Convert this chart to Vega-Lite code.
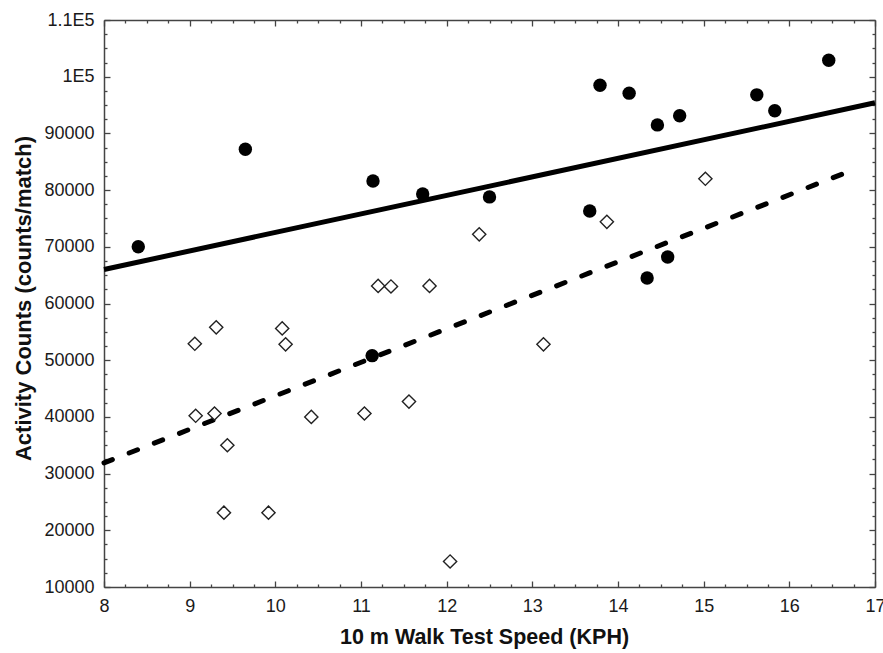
{
  "$schema": "https://vega.github.io/schema/vega-lite/v6.json",
  "width": 771,
  "height": 567,
  "autosize": {"type": "none"},
  "padding": {"left": 104, "top": 20, "right": 8, "bottom": 66},
  "background": "white",
  "config": {
    "view": {"stroke": null},
    "axis": {
      "grid": false,
      "domainColor": "#444",
      "domainWidth": 1.5,
      "tickColor": "#444",
      "tickWidth": 1.3,
      "labelFont": "Liberation Sans",
      "labelFontSize": 18,
      "labelColor": "#1a1a1a",
      "titleFont": "Liberation Sans",
      "titleFontWeight": "bold",
      "titleColor": "#111"
    }
  },
  "resolve": {"axis": {"x": "independent", "y": "independent"}},
  "layer": [
    {
      "data": {"values": [{"speed": 8, "counts": 66000}, {"speed": 17, "counts": 95400}]},
      "mark": {"type": "line", "color": "black", "strokeWidth": 5},
      "encoding": {
        "x": {"field": "speed", "type": "quantitative", "scale": {"domain": [8, 17], "nice": false, "zero": false},
          "axis": {"orient": "top", "labels": false, "title": null, "values": [8, 9, 10, 11, 12, 13, 14, 15, 16, 17], "tickSize": -6, "domain": true}},
        "y": {"field": "counts", "type": "quantitative", "scale": {"domain": [10000, 110000], "nice": false, "zero": false},
          "axis": {"orient": "right", "labels": false, "title": null, "values": [10000, 20000, 30000, 40000, 50000, 60000, 70000, 80000, 90000, 100000, 110000], "tickSize": -6, "domain": true}}
      }
    },
    {
      "data": {"values": [{"speed": 8, "counts": 31900}, {"speed": 16.8, "counts": 83900}]},
      "mark": {"type": "line", "color": "black", "strokeWidth": 5, "strokeDash": [9, 18], "strokeCap": "round"},
      "encoding": {
        "x": {"field": "speed", "type": "quantitative",
          "axis": {"orient": "top", "labels": false, "title": null, "domain": false, "tickSize": -3,
            "values": [8.25, 8.5, 8.75, 9.25, 9.5, 9.75, 10.25, 10.5, 10.75, 11.25, 11.5, 11.75, 12.25, 12.5, 12.75, 13.25, 13.5, 13.75, 14.25, 14.5, 14.75, 15.25, 15.5, 15.75, 16.25, 16.5, 16.75]}},
        "y": {"field": "counts", "type": "quantitative",
          "axis": {"orient": "right", "labels": false, "title": null, "domain": false, "tickSize": -3,
            "values": [12500, 15000, 17500, 22500, 25000, 27500, 32500, 35000, 37500, 42500, 45000, 47500, 52500, 55000, 57500, 62500, 65000, 67500, 72500, 75000, 77500, 82500, 85000, 87500, 92500, 95000, 97500, 102500, 105000, 107500]}}
      }
    },
    {
      "data": {"values": [
        {"speed": 9.06, "counts": 52900}, {"speed": 9.31, "counts": 55800}, {"speed": 9.07, "counts": 40200},
        {"speed": 9.29, "counts": 40600}, {"speed": 9.44, "counts": 35000}, {"speed": 9.4, "counts": 23100},
        {"speed": 9.92, "counts": 23100}, {"speed": 10.08, "counts": 55600}, {"speed": 10.12, "counts": 52800},
        {"speed": 10.42, "counts": 40000}, {"speed": 11.04, "counts": 40600}, {"speed": 11.2, "counts": 63100},
        {"speed": 11.35, "counts": 63000}, {"speed": 11.56, "counts": 42700}, {"speed": 11.8, "counts": 63100},
        {"speed": 12.04, "counts": 14500}, {"speed": 12.38, "counts": 72200}, {"speed": 13.13, "counts": 52800},
        {"speed": 13.87, "counts": 74400}, {"speed": 15.02, "counts": 82000}
      ]},
      "mark": {"type": "point", "shape": "diamond", "filled": true, "fill": "white", "stroke": "#222", "strokeWidth": 1.4, "size": 175, "opacity": 1},
      "encoding": {
        "x": {"field": "speed", "type": "quantitative",
          "axis": {"orient": "bottom", "labels": false, "title": null, "domain": false, "tickSize": -3,
            "values": [8.25, 8.5, 8.75, 9.25, 9.5, 9.75, 10.25, 10.5, 10.75, 11.25, 11.5, 11.75, 12.25, 12.5, 12.75, 13.25, 13.5, 13.75, 14.25, 14.5, 14.75, 15.25, 15.5, 15.75, 16.25, 16.5, 16.75]}},
        "y": {"field": "counts", "type": "quantitative",
          "axis": {"orient": "left", "labels": false, "title": null, "domain": false, "tickSize": -3,
            "values": [12500, 15000, 17500, 22500, 25000, 27500, 32500, 35000, 37500, 42500, 45000, 47500, 52500, 55000, 57500, 62500, 65000, 67500, 72500, 75000, 77500, 82500, 85000, 87500, 92500, 95000, 97500, 102500, 105000, 107500]}}
      }
    },
    {
      "data": {"values": [
        {"speed": 8.4, "counts": 70000}, {"speed": 9.65, "counts": 87200}, {"speed": 11.14, "counts": 81600},
        {"speed": 11.72, "counts": 79300}, {"speed": 12.5, "counts": 78800}, {"speed": 13.67, "counts": 76300},
        {"speed": 13.79, "counts": 98500}, {"speed": 14.13, "counts": 97100}, {"speed": 14.46, "counts": 91500},
        {"speed": 14.72, "counts": 93100}, {"speed": 14.34, "counts": 64500}, {"speed": 14.58, "counts": 68200},
        {"speed": 15.62, "counts": 96800}, {"speed": 15.83, "counts": 94000}, {"speed": 16.46, "counts": 102900},
        {"speed": 11.13, "counts": 50800}
      ]},
      "mark": {"type": "point", "shape": "circle", "filled": true, "color": "black", "size": 180, "opacity": 1},
      "encoding": {
        "x": {"field": "speed", "type": "quantitative",
          "axis": {"orient": "bottom", "title": "10 m Walk Test Speed (KPH)", "values": [8, 9, 10, 11, 12, 13, 14, 15, 16, 17],
            "tickSize": -6, "labelPadding": 25, "labelBaseline": "middle", "labelFlush": false,
            "titleFontSize": 21.5, "titleBaseline": "middle", "titleX": 380, "titleY": 50}},
        "y": {"field": "counts", "type": "quantitative",
          "axis": {"orient": "left", "title": "Activity Counts (counts/match)",
            "values": [10000, 20000, 30000, 40000, 50000, 60000, 70000, 80000, 90000, 100000, 110000],
            "labelExpr": "datum.value == 110000 ? '1.1E5' : (datum.value == 100000 ? '1E5' : format(datum.value, 'd'))",
            "tickSize": -6, "labelPadding": 16, "labelBaseline": "middle", "labelFlush": false,
            "titleFontSize": 22, "titleBaseline": "middle", "titleAngle": -90, "titleX": -81, "titleY": 278}}
      }
    }
  ]
}
